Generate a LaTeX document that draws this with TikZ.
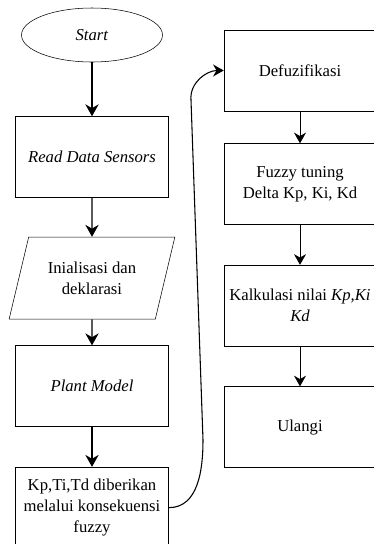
\documentclass[tikz,border=0pt]{standalone}
\usepackage{fontspec}
\setmainfont{Liberation Serif}
\usetikzlibrary{positioning,shapes.geometric,arrows.meta}

\tikzset{
	process/.style={draw, rectangle, minimum width=114.75pt, minimum height=60.75pt, align=center, inner sep=2pt},
	flow/.style={-{Stealth[length=9pt,width=10pt]}, line width=1pt},
	flowthin/.style={-{Stealth[length=8pt,width=9pt]}, line width=0.6pt},
}

\begin{document}
\begin{tikzpicture}[x=0.75pt, y=-0.75pt, font=\fontsize{12.5}{15.5}\selectfont]
	\useasboundingbox (0,0) rectangle (374,544);
	\clip (0,0) rectangle (374,544);

	\node [draw, ellipse, minimum width=105.75pt, minimum height=40.5pt] (start) at (92,35) {\textit{Start}};
	\node [process, below=40.5pt of start] (read) {\textit{Read Data Sensors}};
	\node [draw, trapezium, trapezium left angle=70, trapezium right angle=110, trapezium stretches=true,
		minimum width=125.25pt, minimum height=61.5pt, align=center, below=29.25pt of read] (init) {Inialisasi dan\\deklarasi};
	\node [process, below=19.5pt of init] (plant) {\textit{Plant Model}};
	\node [process, below=30pt of plant] (kp) {Kp,Ti,Td diberikan\\melalui konsekuensi\\fuzzy};

	\node [process, minimum width=114pt] (defuz) at (300,70.5) {Defuzifikasi};
	\node [process, minimum width=114pt, below=24pt of defuz] (tuning) {Fuzzy tuning\\Delta Kp, Ki, Kd};
	\node [process, minimum width=114pt, below=30pt of tuning] (kalk) {Kalkulasi nilai \textit{Kp,Ki}\\\textit{Kd}};
	\node [process, minimum width=114pt, below=30pt of kalk] (ulangi) {Ulangi};

	\coordinate (lo) at (203,440);
	\coordinate (hi) at (191,100);

	\draw [flow] (start) -- (read);
	\draw [flow] (read) -- (init);
	\draw [flow] (init) -- (plant);
	\draw [flow] (plant) -- (kp);
	\draw [flowthin] (defuz) -- (tuning);
	\draw [flowthin] (tuning) -- (kalk);
	\draw [flowthin] (kalk) -- (ulangi);
	\draw [flowthin, line width=0.8pt] (kp.east) to[out=0, in=-90] (lo) -- (hi) to[out=95, in=180] (defuz.west);
\end{tikzpicture}
\end{document}
